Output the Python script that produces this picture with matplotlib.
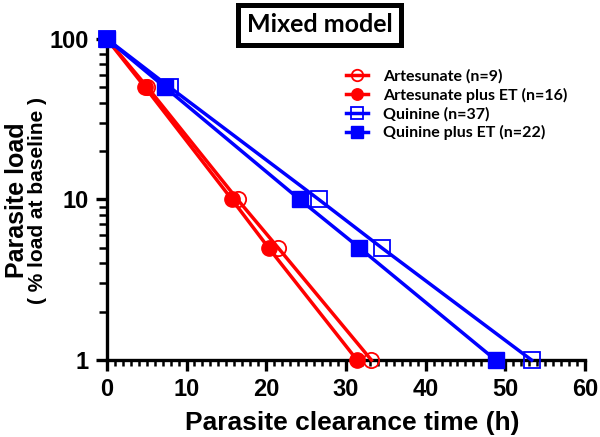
import numpy as np
import matplotlib
matplotlib.use("Agg")
import matplotlib.pyplot as plt
from matplotlib.ticker import MultipleLocator, LogLocator, NullFormatter

# values
load = [100, 50, 10, 5, 1]
art_time = [0, 5.1, 16.4, 21.5, 33.2]
art_et_time = [0, 4.8, 15.7, 20.3, 31.4]
qui_time = [0, 7.9, 26.6, 34.5, 53.3]
qui_et_time = [0, 7.3, 24.2, 31.7, 48.8]

labels = ["Artesunate (n=9)", "Artesunate plus ET (n=16)",
          "Quinine (n=37)", "Quinine plus ET (n=22)"]

fig = plt.figure(figsize=(6, 4.37), dpi=100)
ax = fig.add_axes([0.178, 0.176, 0.797, 0.735])

lw = 2.5
ax.plot(art_time, load, color="red", lw=lw, marker="o", ms=11,
        mfc="none", mec="red", mew=1.3, label=labels[0], zorder=3)
ax.plot(art_et_time, load, color="red", lw=lw, marker="o", ms=11,
        mfc="red", mec="red", label=labels[1], zorder=4)
ax.plot(qui_time, load, color="blue", lw=lw, marker="s", ms=11.5,
        mfc="none", mec="blue", mew=1.3, label=labels[2], zorder=3)
ax.plot(qui_et_time, load, color="blue", lw=lw, marker="s", ms=11.5,
        mfc="blue", mec="blue", label=labels[3], zorder=4)

ax.set_yscale("log")
ax.set_ylim(1, 100)
ax.set_xlim(0, 60)
ax.set_yticks([1, 10, 100])
ax.set_yticklabels(["1", "10", "100"])
ax.yaxis.set_minor_locator(LogLocator(base=10, subs=np.arange(2, 10)))
ax.yaxis.set_minor_formatter(NullFormatter())
ax.xaxis.set_major_locator(MultipleLocator(10))
ax.xaxis.set_minor_locator(MultipleLocator(1))

for s in ["top", "right"]:
    ax.spines[s].set_visible(False)
for s in ["left", "bottom"]:
    ax.spines[s].set_linewidth(2.4)
ax.tick_params(which="major", length=8, width=2.4, labelsize=17, pad=5)
ax.tick_params(axis="y", which="minor", length=5.5, width=1.8)
ax.tick_params(axis="x", which="minor", length=4, width=1.8)
for t in ax.get_xticklabels() + ax.get_yticklabels():
    t.set_fontfamily("Liberation Sans")
    t.set_fontweight("bold")

for line in ax.lines:
    line.set_clip_on(False)

fig.text(0.587, 0.032, "Parasite clearance time (h)", ha="center", va="center",
         fontsize=19, fontweight="bold", family="Liberation Sans")
fig.text(0.028, 0.542, "Parasite load", rotation=90, ha="center", va="center",
         fontsize=18, fontweight="bold", family="Liberation Sans")
fig.text(0.063, 0.542, "( % load at baseline )", rotation=90, ha="center",
         va="center", fontsize=15, fontweight="bold", family="Liberation Sans")

fig.text(0.533, 0.943, "Mixed model", ha="center", va="center", fontsize=18,
         fontweight="bold", family="Lato",
         bbox=dict(boxstyle="square,pad=0.35", fc="white", ec="black", lw=3.6))

leg = ax.legend(loc="upper left", bbox_to_anchor=(0.50, 0.905), frameon=False,
                prop={"family": "Lato", "weight": "bold", "size": 11.5},
                handlelength=1.4, handletextpad=0.9, labelspacing=0.25,
                borderpad=0, borderaxespad=0, markerscale=0.75)

fig.savefig("out.png", dpi=100)
